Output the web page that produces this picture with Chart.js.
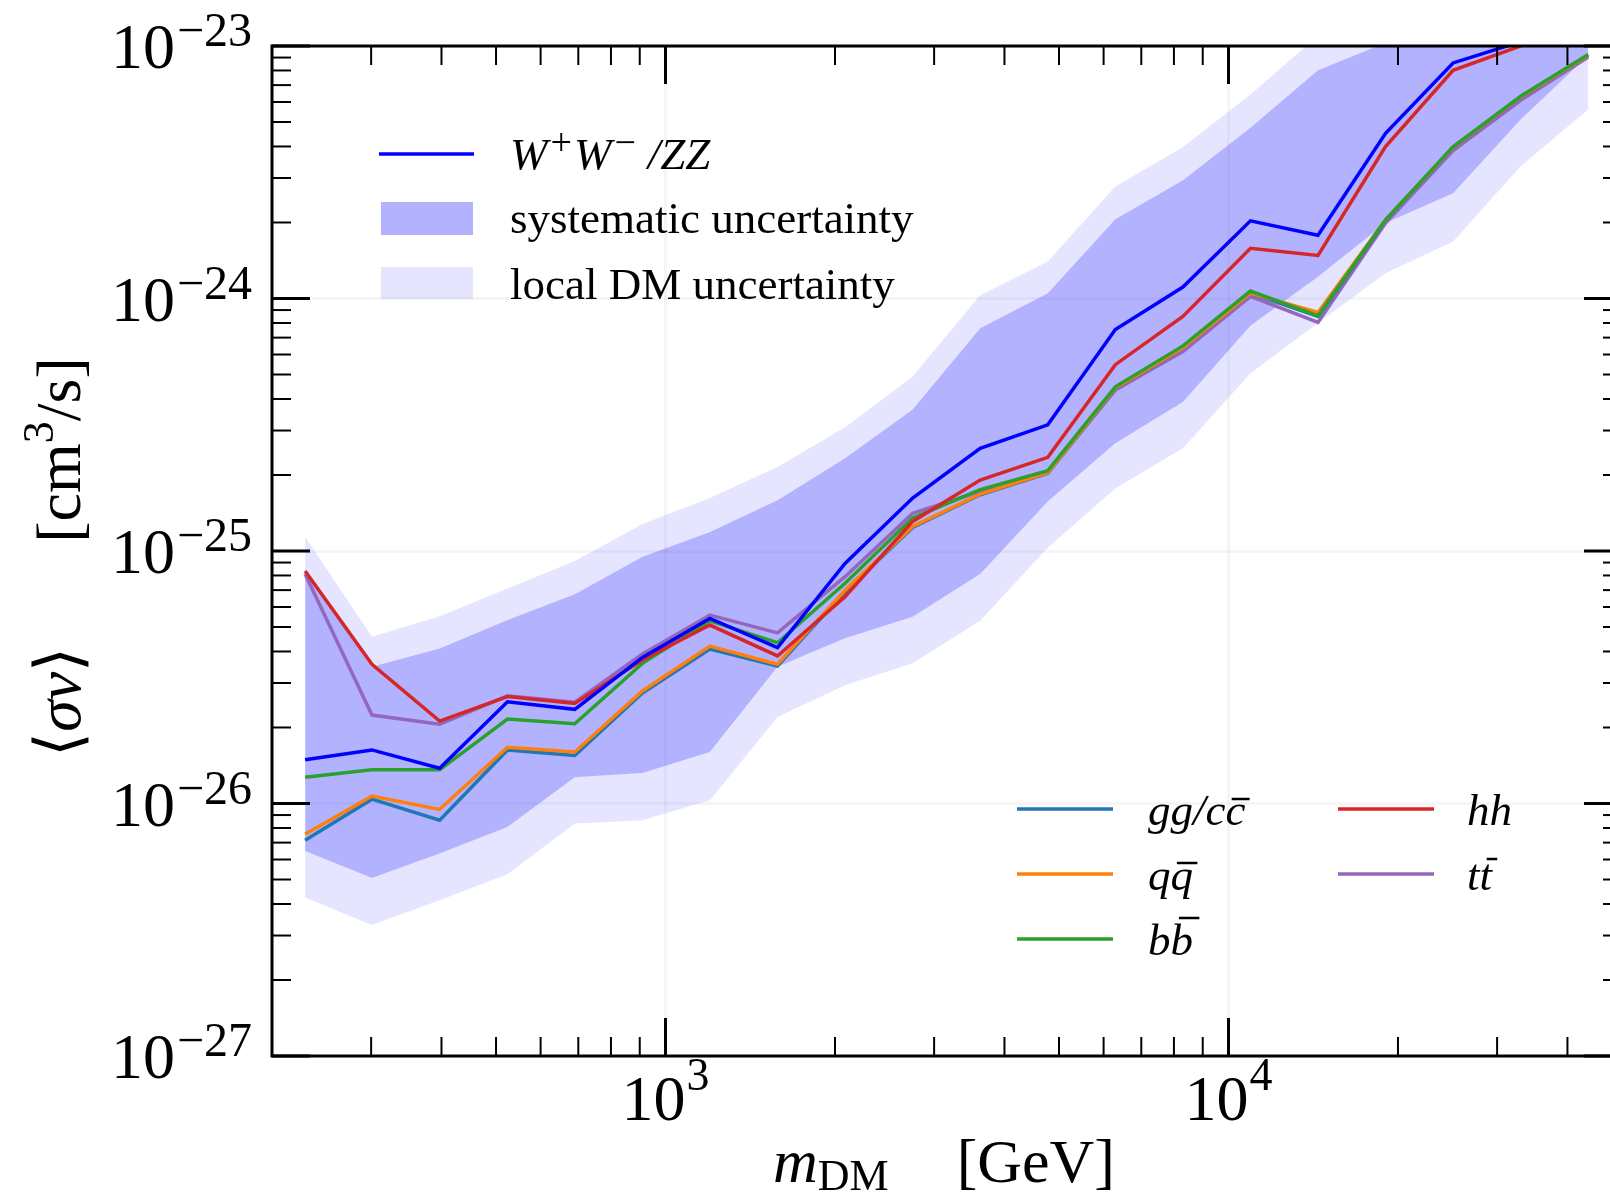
<!DOCTYPE html>
<html>
<head>
<meta charset="utf-8">
<script src="https://cdn.jsdelivr.net/npm/chart.js@4.4.1/dist/chart.umd.min.js"></script>
<style>
  html, body { margin: 0; padding: 0; background: #fff; overflow: hidden; }
  #wrap { width: 1650px; height: 1197px; }
</style>
</head>
<body>
<div id="wrap"><canvas id="limits" width="1650" height="1197"></canvas></div>
<script>
// DM mass grid [GeV]
const massGeV = [229, 301, 397, 524, 690, 910, 1199, 1581, 2084, 2748, 3622, 4775, 6295, 8299, 10940, 14420, 19010, 25060, 33040, 43550];

// <sigma v> upper limits per channel [cm^3/s]
const sigmaWW = [1.49e-26, 1.63e-26, 1.38e-26, 2.53e-26, 2.36e-26, 3.79e-26, 5.41e-26, 4.14e-26, 8.93e-26, 1.62e-25, 2.55e-25, 3.16e-25, 7.54e-25, 1.11e-24, 2.03e-24, 1.78e-24, 4.51e-24, 8.57e-24, 1.04e-23, 1.60e-23];
const sigmaGG = [7.15e-27, 1.04e-26, 8.59e-27, 1.63e-26, 1.55e-26, 2.74e-26, 4.09e-26, 3.50e-26, 6.90e-26, 1.24e-25, 1.67e-25, 2.03e-25, 4.40e-25, 6.36e-25, 1.05e-24, 8.50e-25, 2.04e-24, 3.98e-24, 6.30e-24, 9.20e-24];
const sigmaQQ = [7.55e-27, 1.07e-26, 9.47e-27, 1.67e-26, 1.60e-26, 2.79e-26, 4.20e-26, 3.56e-26, 7.00e-26, 1.25e-25, 1.68e-25, 2.04e-25, 4.42e-25, 6.38e-25, 1.05e-24, 8.80e-25, 2.05e-24, 3.98e-24, 6.30e-24, 9.20e-24];
const sigmaBB = [1.27e-26, 1.36e-26, 1.36e-26, 2.16e-26, 2.07e-26, 3.59e-26, 5.29e-26, 4.33e-26, 7.45e-26, 1.35e-25, 1.75e-25, 2.08e-25, 4.47e-25, 6.49e-25, 1.07e-24, 8.54e-25, 2.05e-24, 3.99e-24, 6.32e-24, 9.25e-24];
const sigmaHH = [8.33e-26, 3.56e-26, 2.12e-26, 2.65e-26, 2.49e-26, 3.70e-26, 5.09e-26, 3.84e-26, 6.59e-26, 1.31e-25, 1.91e-25, 2.35e-25, 5.47e-25, 8.49e-25, 1.58e-24, 1.48e-24, 4.00e-24, 8.01e-24, 1.00e-23, 1.50e-23];
const sigmaTT = [8.11e-26, 2.24e-26, 2.06e-26, 2.67e-26, 2.52e-26, 3.91e-26, 5.57e-26, 4.74e-26, 7.91e-26, 1.41e-25, 1.72e-25, 2.04e-25, 4.34e-25, 6.16e-25, 1.02e-24, 8.04e-25, 1.99e-24, 3.85e-24, 6.09e-24, 9.05e-24];

// uncertainty bands around the W+W-/ZZ limit
const sysUpper = [8.26e-26, 3.48e-26, 4.11e-26, 5.33e-26, 6.74e-26, 9.49e-26, 1.19e-25, 1.59e-25, 2.33e-25, 3.63e-25, 7.63e-25, 1.05e-24, 2.06e-24, 2.94e-24, 4.74e-24, 8.01e-24, 1.03e-23, 1.60e-23, 2.40e-23, 3.40e-23];
const sysLower = [6.49e-27, 5.07e-27, 6.34e-27, 8.08e-27, 1.27e-26, 1.32e-26, 1.60e-26, 3.48e-26, 4.51e-26, 5.49e-26, 8.11e-26, 1.57e-25, 2.67e-25, 3.89e-25, 7.80e-25, 1.22e-24, 1.99e-24, 2.61e-24, 5.11e-24, 9.16e-24];
const localUpper = [1.14e-25, 4.57e-26, 5.52e-26, 7.11e-26, 9.13e-26, 1.28e-25, 1.62e-25, 2.15e-25, 3.09e-25, 4.91e-25, 1.03e-24, 1.40e-24, 2.78e-24, 3.98e-24, 6.42e-24, 1.10e-23, 1.80e-23, 2.60e-23, 3.60e-23, 5.00e-23];
const localLower = [4.24e-27, 3.30e-27, 4.14e-27, 5.25e-27, 8.33e-27, 8.59e-27, 1.03e-26, 2.20e-26, 2.94e-26, 3.59e-26, 5.29e-26, 1.03e-25, 1.77e-25, 2.55e-25, 5.06e-25, 7.99e-25, 1.26e-24, 1.68e-24, 3.34e-24, 5.60e-24];

// decade tick labels (powers of ten)
const xTickExponents = [3, 4];
const yTickExponents = [-27, -26, -25, -24, -23];

const SERIF = '"Liberation Serif", "Times New Roman", serif';
const font = (size, italic) => (italic ? 'italic ' : '') + size + 'px ' + SERIF;

const pts = vals => massGeV.map((m, i) => ({ x: m, y: vals[i] }));

const line = (label, vals, color, order) => ({
  label, data: pts(vals), borderColor: color, backgroundColor: color,
  borderWidth: 3.5, pointRadius: 0, tension: 0, fill: false, order
});
const band = (label, vals, fill, color, order) => ({
  label, data: pts(vals), borderWidth: 0, pointRadius: 0, tension: 0,
  fill, backgroundColor: color, borderColor: 'transparent', order
});

const datasets = [
  line('W+W-/ZZ', sigmaWW, '#0000ff', 0),   // 0
  line('hh', sigmaHH, '#d62728', 1),        // 1
  line('bb', sigmaBB, '#2ca02c', 2),        // 2
  line('qq', sigmaQQ, '#ff7f0e', 3),        // 3
  line('gg/cc', sigmaGG, '#1f77b4', 4),     // 4
  line('tt', sigmaTT, '#9467bd', 5),        // 5
  band('systematic uncertainty', sysUpper, 7, 'rgba(0,0,255,0.3)', 10), // 6
  band('sys lower', sysLower, false, 'transparent', 11),                 // 7
  band('local DM uncertainty', localUpper, 6, 'rgba(0,0,255,0.1)', 12),  // 8
  band('local lower', localLower, 7, 'rgba(0,0,255,0.1)', 13)            // 9
];

// text made of several runs (italic, sub/superscripts, spacers)
function runsWidth(ctx, runs) {
  let w = 0;
  for (const r of runs) {
    if (typeof r === 'number') { w += r; continue; }
    ctx.font = font(r.size, r.italic);
    w += ctx.measureText(r.text).width;
  }
  return w;
}
function drawRuns(ctx, runs, x, y) {
  for (const r of runs) {
    if (typeof r === 'number') { x += r; continue; }
    ctx.font = font(r.size, r.italic);
    ctx.fillText(r.text, x, y + (r.dy || 0));
    x += ctx.measureText(r.text).width;
  }
  return x;
}
// macron over the last character of an italic label
function barOverLast(ctx, text, size, x, baseline, rise) {
  ctx.font = font(size, true);
  const w0 = ctx.measureText(text.slice(0, -1)).width;
  const w1 = ctx.measureText(text).width;
  const slant = rise * 0.2;
  ctx.lineWidth = 2.5;
  ctx.beginPath();
  ctx.moveTo(x + w0 + slant + 1, baseline - rise);
  ctx.lineTo(x + w1 + slant - 1, baseline - rise);
  ctx.stroke();
}

const framePlugin = {
  id: 'frame',
  afterDraw(chart) {
    const { ctx, chartArea: a } = chart;
    const xs = chart.scales.x, ys = chart.scales.y;
    const ds = chart.data.datasets;
    ctx.save();
    ctx.strokeStyle = '#000';
    ctx.fillStyle = '#000';
    ctx.lineCap = 'butt';
    const seg = (x0, y0, x1, y1, w) => {
      ctx.lineWidth = w;
      ctx.beginPath(); ctx.moveTo(x0, y0); ctx.lineTo(x1, y1); ctx.stroke();
    };

    // inward ticks on all four sides
    for (const e of [2, 3, 4]) {
      for (let m = 1; m <= 9; m++) {
        const v = m * Math.pow(10, e);
        if (v < xs.min || v > xs.max) continue;
        const px = xs.getPixelForValue(v);
        const len = m === 1 ? 38 : 19, w = m === 1 ? 3 : 2;
        seg(px, a.bottom, px, a.bottom - len, w);
        seg(px, a.top, px, a.top + len, w);
      }
    }
    for (let e = -27; e <= -23; e++) {
      for (let m = 1; m <= 9; m++) {
        if (e === -23 && m > 1) break;
        const py = ys.getPixelForValue(m * Math.pow(10, e));
        const len = m === 1 ? 38 : 19, w = m === 1 ? 3 : 2;
        seg(a.left, py, a.left + len, py, w);
        seg(a.right, py, a.right - len, py, w);
      }
    }

    // spines
    ctx.lineWidth = 3;
    ctx.strokeRect(a.left, a.top, a.right - a.left, a.bottom - a.top);

    // tick labels
    ctx.textAlign = 'left';
    ctx.textBaseline = 'alphabetic';
    for (const e of yTickExponents) {
      const py = ys.getPixelForValue(Math.pow(10, e));
      const exp = '\u2212' + Math.abs(e);
      ctx.font = font(48); const ew = ctx.measureText(exp).width;
      ctx.font = font(64); const bw = ctx.measureText('10').width;
      const right = a.left - 20;
      ctx.fillText('10', right - ew - 2 - bw, py + 22);
      ctx.font = font(48);
      ctx.fillText(exp, right - ew, py);
    }
    for (const e of xTickExponents) {
      const px = xs.getPixelForValue(Math.pow(10, e));
      const runs = [{ text: '10', size: 64 }, 1, { text: String(e), size: 46, dy: -30 }];
      const w = runsWidth(ctx, runs);
      drawRuns(ctx, runs, px - w / 2, a.bottom + 64);
    }

    // axis titles
    const xTitle = [{ text: 'm', size: 62, italic: true }, { text: 'DM', size: 44, dy: 8 }, 68, { text: '[GeV]', size: 62 }];
    const xtw = runsWidth(ctx, xTitle);
    drawRuns(ctx, xTitle, (a.left + a.right) / 2 - 3 - xtw / 2, a.bottom + 126);

    const yTitle = [{ text: '\u27E8', size: 64 }, { text: '\u03C3v', size: 64, italic: true }, { text: '\u27E9', size: 64 },
      104, { text: '[cm', size: 64 }, { text: '3', size: 44, dy: -27 }, { text: '/s]', size: 64 }];
    const ytw = runsWidth(ctx, yTitle);
    ctx.save();
    ctx.translate(80, (a.top + a.bottom) / 2 + 6);
    ctx.rotate(-Math.PI / 2);
    drawRuns(ctx, yTitle, -ytw / 2, 0);
    ctx.restore();

    // legend, upper left
    const lx = a.left + 107, tx = a.left + 238;
    ctx.strokeStyle = ds[0].borderColor;
    seg(lx, a.top + 108, lx + 95, a.top + 108, 3.5);
    ctx.fillStyle = '#000';
    drawRuns(ctx, [{ text: 'W', size: 45, italic: true }, 3, { text: '+', size: 38, dy: -14 }, 2,
      { text: 'W', size: 45, italic: true }, 3, { text: '\u2212', size: 38, dy: -14 }, 12,
      { text: '/ZZ', size: 45, italic: true }], tx, a.top + 123);
    ctx.fillStyle = ds[6].backgroundColor;
    ctx.fillRect(lx + 2, a.top + 156, 92, 33);
    ctx.fillStyle = ds[8].backgroundColor;
    ctx.fillRect(lx + 2, a.top + 221, 92, 32);
    ctx.fillStyle = '#000';
    ctx.font = font(45);
    ctx.fillText(ds[6].label, tx, a.top + 187);
    ctx.fillText(ds[8].label, tx, a.top + 253);

    // legend, lower right (two columns)
    const entries = [
      { ds: 4, text: 'gg/cc', bar: 26, col: 0, row: 0 },
      { ds: 3, text: 'qq', bar: 27, col: 0, row: 1 },
      { ds: 2, text: 'bb', bar: 37, col: 0, row: 2 },
      { ds: 1, text: 'hh', bar: 0, col: 1, row: 0 },
      { ds: 5, text: 'tt', bar: 31, col: 1, row: 1 }
    ];
    for (const en of entries) {
      const x0 = a.left + (en.col ? 1066 : 745);
      const t0 = a.left + (en.col ? 1195 : 876);
      const yy = a.top + 763 + en.row * 65;
      ctx.strokeStyle = ds[en.ds].borderColor;
      seg(x0, yy, x0 + 96, yy, 3.5);
      ctx.fillStyle = '#000';
      ctx.font = font(45, true);
      ctx.fillText(en.text, t0, yy + 16);
      if (en.bar) {
        ctx.strokeStyle = '#000';
        barOverLast(ctx, en.text, 45, t0, yy + 16, en.bar);
      }
    }
    ctx.restore();
  }
};

new Chart(document.getElementById('limits'), {
  type: 'line',
  data: { datasets },
  plugins: [framePlugin],
  options: {
    responsive: false,
    animation: false,
    devicePixelRatio: 1,
    layout: { padding: { top: 46, right: 28, left: 0, bottom: 0 } },
    plugins: {
      legend: { display: false },
      tooltip: { enabled: false },
      filler: { propagate: false }
    },
    scales: {
      x: {
        type: 'logarithmic', min: 200, max: 50000,
        border: { display: false },
        grid: { color: 'rgba(0,0,0,0.04)', lineWidth: 3, drawTicks: false },
        ticks: { display: false },
        afterBuildTicks: s => { s.ticks = xTickExponents.map(e => ({ value: Math.pow(10, e) })); },
        afterFit: s => { s.height = 141; }
      },
      y: {
        type: 'logarithmic', min: 1e-27, max: 1e-23,
        border: { display: false },
        grid: { color: 'rgba(0,0,0,0.04)', lineWidth: 3, drawTicks: false },
        ticks: { display: false },
        afterBuildTicks: s => { s.ticks = yTickExponents.map(e => ({ value: Math.pow(10, e) })); },
        afterFit: s => { s.width = 272; }
      }
    }
  }
});
</script>
</body>
</html>
